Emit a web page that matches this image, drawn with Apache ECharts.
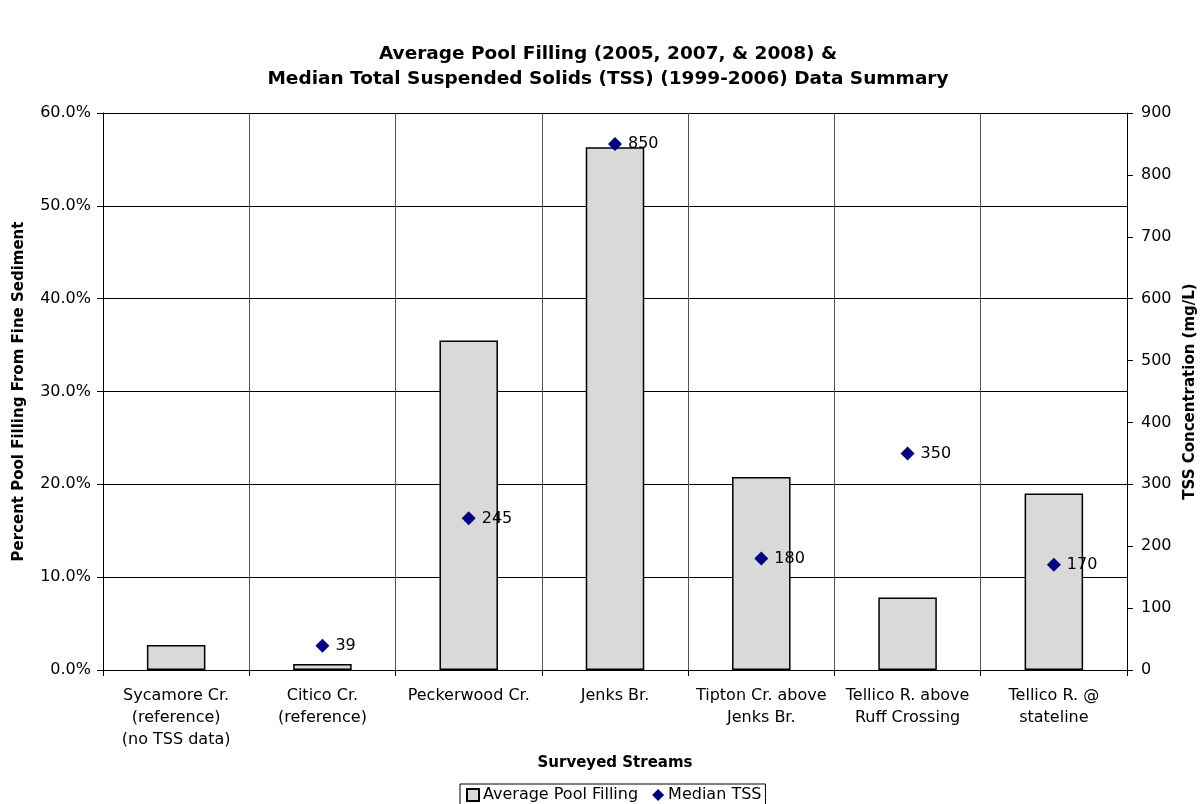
<!DOCTYPE html>
<html>
<head>
<meta charset="utf-8">
<script src="https://cdn.jsdelivr.net/npm/echarts@6/dist/echarts.min.js"></script>
<style>
  html, body { margin: 0; padding: 0; background: #fff; }
  #chart { width: 1200px; height: 804px; }
</style>
</head>
<body>
<div id="chart"></div>
<script>
// Surveyed streams along the x axis
const streams = [
  'Sycamore Cr.\n(reference)\n(no TSS data)',
  'Citico Cr.\n(reference)',
  'Peckerwood Cr.',
  'Jenks Br.',
  'Tipton Cr. above\nJenks Br.',
  'Tellico R. above\nRuff Crossing',
  'Tellico R. @\nstateline'
];

// Average pool filling from fine sediment (fraction of pool volume)
const poolFilling = [0.027, 0.0065, 0.355, 0.563, 0.208, 0.078, 0.190];

// Median TSS concentration, mg/L (no data for Sycamore Cr.)
const medianTSS = [null, 39, 245, 850, 180, 350, 170];

const FONT = 'DejaVu Sans, Verdana, sans-serif';

const chart = echarts.init(document.getElementById('chart'), null, { renderer: 'canvas' });

chart.setOption({
  backgroundColor: '#ffffff',
  animation: false,
  textStyle: { fontFamily: FONT, color: '#000' },
  title: {
    text: 'Average Pool Filling (2005, 2007, & 2008) &\nMedian Total Suspended Solids (TSS) (1999-2006) Data Summary',
    left: 603,
    top: 37,
    textAlign: 'center',
    textStyle: { fontFamily: FONT, fontSize: 18.5, fontWeight: 'bold', color: '#000', lineHeight: 25 }
  },
  legend: {
    bottom: -3,
    left: 460,
    itemGap: 14,
    itemWidth: 12,
    itemHeight: 12,
    padding: [3, 4, 4, 6],
    borderColor: '#000',
    borderWidth: 1,
    textStyle: { fontFamily: FONT, fontSize: 16, color: '#000', padding: [0, 0, 0, -1] },
    data: [
      { name: 'Average Pool Filling', icon: 'rect' },
      { name: 'Median TSS', icon: 'diamond' }
    ]
  },
  grid: { left: 103, right: 73, top: 113, bottom: 134, outerBoundsMode: 'none' },
  xAxis: {
    type: 'category',
    data: streams,
    boundaryGap: true,
    name: 'Surveyed Streams',
    nameLocation: 'middle',
    nameGap: 69,
    nameTextStyle: { fontFamily: FONT, fontSize: 15, fontWeight: 'bold', color: '#000' },
    axisLine: { lineStyle: { color: '#000', width: 1 } },
    axisTick: { show: true, length: 6, lineStyle: { color: '#000' } },
    axisLabel: { fontFamily: FONT, fontSize: 16, color: '#000', lineHeight: 22, margin: 15, interval: 0 },
    splitLine: { show: true, lineStyle: { color: '#555', width: 1 } }
  },
  yAxis: [
    {
      type: 'value',
      min: 0,
      max: 0.6,
      interval: 0.1,
      name: 'Percent Pool Filling From Fine Sediment',
      nameLocation: 'middle',
      nameGap: 76,
      nameTextStyle: { fontFamily: FONT, fontSize: 15, fontWeight: 'bold', color: '#000' },
      axisLine: { show: true, lineStyle: { color: '#000', width: 1 } },
      axisTick: { show: true, length: 6, lineStyle: { color: '#000' } },
      axisLabel: {
        fontFamily: FONT, fontSize: 16, color: '#000', margin: 12,
        formatter: v => (v * 100).toFixed(1) + '%'
      },
      splitLine: { show: true, lineStyle: { color: '#000', width: 1 } }
    },
    {
      type: 'value',
      min: 0,
      max: 900,
      interval: 100,
      position: 'right',
      name: 'TSS Concentration (mg/L)',
      nameLocation: 'middle',
      nameGap: 56,
      nameTextStyle: { fontFamily: FONT, fontSize: 15, fontWeight: 'bold', color: '#000' },
      axisLine: { show: true, lineStyle: { color: '#000', width: 1 } },
      axisTick: { show: true, inside: false, length: 6, lineStyle: { color: '#000' } },
      axisLabel: { fontFamily: FONT, fontSize: 16, color: '#000', margin: 14 },
      splitLine: { show: false }
    }
  ],
  series: [
    {
      name: 'Average Pool Filling',
      type: 'bar',
      yAxisIndex: 0,
      data: poolFilling,
      barWidth: '40%',
      itemStyle: { color: '#d9d9d9', borderColor: '#000', borderWidth: 1.5 }
    },
    {
      name: 'Median TSS',
      type: 'scatter',
      yAxisIndex: 1,
      data: medianTSS,
      symbol: 'diamond',
      symbolSize: 14,
      itemStyle: { color: '#000080', opacity: 1 },
      label: {
        show: true,
        position: 'right',
        distance: 6,
        fontFamily: FONT,
        fontSize: 16,
        color: '#000',
        formatter: p => String(p.value)
      },
      z: 5
    }
  ]
});
</script>
</body>
</html>
